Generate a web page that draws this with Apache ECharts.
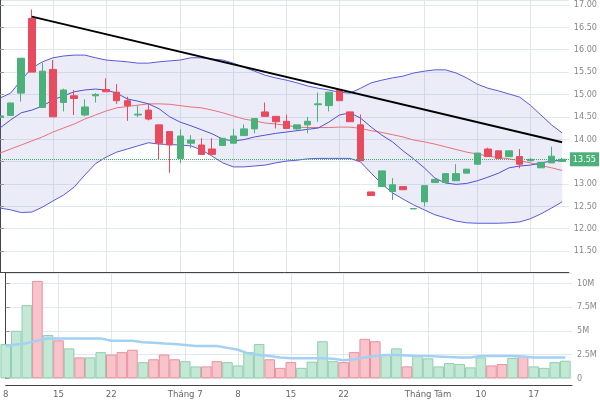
<!DOCTYPE html>
<html><head><meta charset="utf-8">
<script src="https://cdn.jsdelivr.net/npm/echarts@6/dist/echarts.min.js"></script>
<style>html,body{margin:0;padding:0;background:#fff}#c{width:600px;height:400px}</style>
</head><body><div id="c"></div>
<script>
// x tick positions (trading-day index) and their labels
const tickIndex  = [0, 5, 10, 17, 22, 27, 32, 40, 45, 50];
const tickLabels = ['8', '15', '22', 'Tháng 7', '8', '15', '22', 'Tháng Tám', '10', '17'];

// OHLC per trading day
const opens  = [14.50,14.53,15.03,16.70,14.71,15.56,14.82,14.97,14.54,14.97,15.11,15.05,14.86,14.54,14.65,14.32,14.17,13.57,13.91,13.87,13.78,13.86,13.91,14.08,14.23,14.61,14.51,14.40,14.23,14.32,14.77,14.75,15.10,14.61,14.32,12.82,12.94,12.83,12.94,12.44,12.60,13.03,13.03,13.07,13.24,13.44,13.78,13.74,13.61,13.61,13.52,13.36,13.47,13.50];
const closes = [14.52,14.81,15.81,15.50,15.52,14.50,15.10,14.91,14.72,15.00,15.06,14.86,14.75,14.56,14.45,13.91,13.87,14.07,13.98,13.66,13.66,14.02,14.07,14.23,14.46,14.51,14.39,14.24,14.32,14.40,14.79,15.05,14.86,14.39,13.52,12.74,13.29,12.98,12.87,12.45,12.96,13.10,13.23,13.23,13.33,13.69,13.61,13.57,13.74,13.44,13.55,13.48,13.62,13.55];
const lows   = [14.45,14.53,14.84,15.50,14.71,14.50,14.62,14.54,14.51,14.82,15.06,14.79,14.41,14.49,14.42,13.55,13.25,13.46,13.80,13.66,13.66,13.86,13.91,14.08,14.13,14.51,14.24,14.24,14.21,14.13,14.39,14.62,14.86,14.39,13.52,12.74,12.94,12.64,12.87,12.44,12.50,13.03,13.03,13.07,13.24,13.44,13.61,13.57,13.61,13.35,13.50,13.36,13.47,13.50];
const highs  = [14.55,14.81,15.81,16.90,15.71,15.77,15.13,15.10,14.89,15.03,15.36,15.23,14.95,14.75,14.78,14.32,14.17,14.22,14.09,14.02,14.02,14.02,14.23,14.33,14.46,14.82,14.51,14.55,14.32,14.50,15.04,15.05,15.10,14.61,14.55,12.82,13.29,13.13,12.94,12.45,12.96,13.10,13.23,13.44,13.33,13.69,13.81,13.74,13.74,13.78,13.57,13.48,13.83,13.58];

// volume (millions) and its moving average
const volumes  = [3.6,5.0,7.7,10.25,4.55,4.0,3.15,2.2,2.2,2.75,2.5,2.75,3.0,1.7,2.0,2.5,2.0,1.8,1.25,1.25,1.8,1.7,1.35,2.75,3.6,2.0,1.1,1.7,1.1,1.75,3.9,1.8,1.7,2.75,4.15,3.9,2.5,3.15,1.25,2.45,2.1,1.25,1.6,1.5,1.15,2.2,1.35,1.5,2.15,2.35,1.25,1.1,1.7,1.85];
const volumeMA = [3.4,3.55,3.7,3.95,4.2,4.2,4.2,4.2,4.2,4.2,3.95,3.95,3.95,3.8,3.75,3.65,3.6,3.5,3.4,3.4,3.4,3.2,3.0,2.6,2.45,2.35,2.2,2.1,2.1,2.1,2.1,2.05,1.9,2.0,2.2,2.35,2.45,2.45,2.4,2.35,2.35,2.3,2.25,2.2,2.2,2.35,2.35,2.35,2.35,2.3,2.2,2.2,2.2,2.2];

// Bollinger bands and moving average
const bbUpper  = [14.92,15.03,15.32,15.59,15.73,15.82,15.86,15.88,15.88,15.82,15.77,15.75,15.73,15.70,15.70,15.73,15.75,15.77,15.82,15.82,15.79,15.77,15.70,15.61,15.52,15.43,15.37,15.32,15.26,15.19,15.14,15.10,15.05,15.03,15.14,15.26,15.32,15.37,15.41,15.48,15.52,15.55,15.55,15.48,15.37,15.23,15.14,15.08,15.01,14.94,14.76,14.54,14.32,14.14];
const bbMiddle = [13.69,13.78,13.87,13.96,14.05,14.16,14.25,14.34,14.45,14.54,14.63,14.70,14.73,14.76,14.79,14.79,14.78,14.75,14.72,14.70,14.65,14.59,14.52,14.45,14.41,14.36,14.34,14.31,14.27,14.26,14.26,14.26,14.27,14.27,14.24,14.19,14.15,14.10,14.05,13.98,13.94,13.89,13.83,13.77,13.71,13.67,13.62,13.59,13.56,13.52,13.47,13.41,13.36,13.30];
const bbLower  = [12.46,12.42,12.36,12.37,12.48,12.62,12.75,12.93,13.20,13.45,13.60,13.71,13.78,13.85,13.92,13.89,13.88,13.87,13.85,13.76,13.62,13.47,13.38,13.38,13.40,13.42,13.47,13.51,13.53,13.56,13.57,13.57,13.57,13.57,13.49,13.24,13.00,12.80,12.66,12.53,12.42,12.31,12.24,12.17,12.13,12.12,12.12,12.12,12.13,12.15,12.22,12.33,12.46,12.60];
const maLine   = [14.25,14.43,14.59,14.65,14.74,14.88,14.97,15.06,15.10,15.12,15.10,15.03,14.90,14.85,14.79,14.68,14.50,14.38,14.30,14.21,14.12,14.00,13.96,13.99,14.05,14.09,14.13,14.16,14.19,14.22,14.25,14.38,14.54,14.59,14.47,14.27,14.09,13.94,13.74,13.56,13.36,13.13,13.02,12.99,13.01,13.07,13.15,13.24,13.36,13.40,13.42,13.47,13.51,13.53];

// hand-drawn trend line (day index, price)
const trendIdx = [3, 53];
const trendVal = [16.74, 13.93];

const FONT = "'Liberation Sans Narrow','DejaVu Sans Condensed','Liberation Sans',sans-serif";
const UP = '#4cb07a', DOWN = '#e84a5e';
const pair = arr => arr.map((v, i) => [i, v]);
const lastClose = closes[closes.length - 1];
const labelFor = v => { const k = tickIndex.indexOf(Math.round(v)); return k >= 0 ? tickLabels[k] : ''; };

const chart = echarts.init(document.getElementById('c'), null, {renderer: 'canvas'});
const gridLine = {lineStyle: {color: '#e2e9ee', width: 1}};
const option = {
  animation: false,
  backgroundColor: '#fff',
  grid: [
    {left: 0, right: 28, top: 0, height: 272},
    {left: 0, right: 28, top: 273, height: 105.3}
  ],
  xAxis: [
    {type: 'value', gridIndex: 0, min: 0, max: 53.63, position: 'bottom',
     axisLine: {show: true, onZero: false, lineStyle: {color: '#444'}},
     axisTick: {show: false, customValues: tickIndex},
     axisLabel: {show: false, customValues: tickIndex},
     splitLine: {show: true, lineStyle: {color: '#dfe7ec'}}},
    {type: 'value', gridIndex: 1, min: 0, max: 53.63, position: 'bottom', offset: 7,
     axisLine: {show: true, onZero: false, lineStyle: {color: '#444'}},
     axisTick: {show: false, customValues: tickIndex},
     axisLabel: {customValues: tickIndex, formatter: labelFor, fontFamily: FONT, fontSize: 9.5, color: '#666', margin: 4, showMinLabel: true, showMaxLabel: true},
     splitLine: {show: true, lineStyle: {color: '#dfe7ec'}}}
  ],
  yAxis: [
    {type: 'value', gridIndex: 0, position: 'right', min: 11.03, max: 17.112, splitNumber: 12,
     axisLine: {show: true, lineStyle: {color: '#444'}},
     axisTick: {show: true, length: 4, lineStyle: {color: '#999'}},
     axisLabel: {formatter: v => v.toFixed(2), showMinLabel: false, showMaxLabel: false, fontFamily: FONT, fontSize: 9, color: '#888', margin: 5},
     splitLine: gridLine},
    {type: 'value', gridIndex: 1, position: 'right', min: 0, max: 11.08, interval: 2.5,
     axisLine: {show: true, lineStyle: {color: '#444'}},
     axisTick: {show: true, length: 4, lineStyle: {color: '#999'}},
     axisLabel: {formatter: v => v === 0 ? '0' : v + 'M', showMaxLabel: false, fontFamily: FONT, fontSize: 9, color: '#888', margin: 5},
     splitLine: gridLine}
  ],
  series: [
    // band fill: value first, day index second so that the price dimension is the stacked one
    {name: 'bbBase', type: 'line', stack: 'bb', data: bbLower.map((v, i) => [v, i]), encode: {x: 1, y: 0},
     symbol: 'none', silent: true, lineStyle: {opacity: 0}, z: 1},
    {name: 'bbFill', type: 'line', stack: 'bb', data: bbUpper.map((u, i) => [u - bbLower[i], i]), encode: {x: 1, y: 0},
     symbol: 'none', silent: true, lineStyle: {opacity: 0}, areaStyle: {color: 'rgba(130,130,210,0.22)'}, z: 1},
    {name: 'upper', type: 'line', data: pair(bbUpper), symbol: 'none', lineStyle: {color: '#5a5ad8', width: 1}, z: 2},
    {name: 'lower', type: 'line', data: pair(bbLower), symbol: 'none', lineStyle: {color: '#5a5ad8', width: 1}, z: 2},
    {name: 'middle', type: 'line', data: pair(bbMiddle), symbol: 'none', lineStyle: {color: '#e8707c', width: 1}, z: 2},
    {name: 'ma', type: 'line', data: pair(maLine), symbol: 'none', lineStyle: {color: '#5050d4', width: 1}, z: 2},
    {name: 'price', type: 'candlestick', data: opens.map((o, i) => [i, o, closes[i], lows[i], highs[i]]),
     encode: {x: 0, y: [1, 2, 3, 4]}, barWidth: 7, z: 3,
     itemStyle: {color: UP, color0: DOWN, borderColor: UP, borderColor0: DOWN, borderWidth: 1},
     markLine: {silent: true, symbol: ['none', 'none'], animation: false,
       lineStyle: {color: '#3faa6e', type: 'dotted', width: 1},
       label: {show: true, position: 'end', distance: 1, formatter: () => lastClose.toFixed(2),
         backgroundColor: '#4cb07a', color: '#fff', fontFamily: FONT, fontSize: 9, padding: [3, 3, 2, 3]},
       data: [{yAxis: lastClose}]}},
    {name: 'trend', type: 'line', data: trendIdx.map((x, i) => [x, trendVal[i]]), symbol: 'none',
     lineStyle: {color: '#000', width: 2}, z: 4},
    {name: 'volume', type: 'bar', xAxisIndex: 1, yAxisIndex: 1, barWidth: 10.6,
     data: volumes.map((v, i) => ({value: [i, v], itemStyle: closes[i] >= opens[i]
       ? {color: '#c3e8d5', borderColor: '#8fcfae', borderWidth: 1}
       : {color: '#f8c4cc', borderColor: '#e8909d', borderWidth: 1}}))},
    {name: 'volMA', type: 'line', xAxisIndex: 1, yAxisIndex: 1, data: pair(volumeMA), symbol: 'none',
     lineStyle: {color: '#a3d1f3', width: 2.5}, z: 3}
  ]
};
chart.setOption(option);
</script>
</body></html>
